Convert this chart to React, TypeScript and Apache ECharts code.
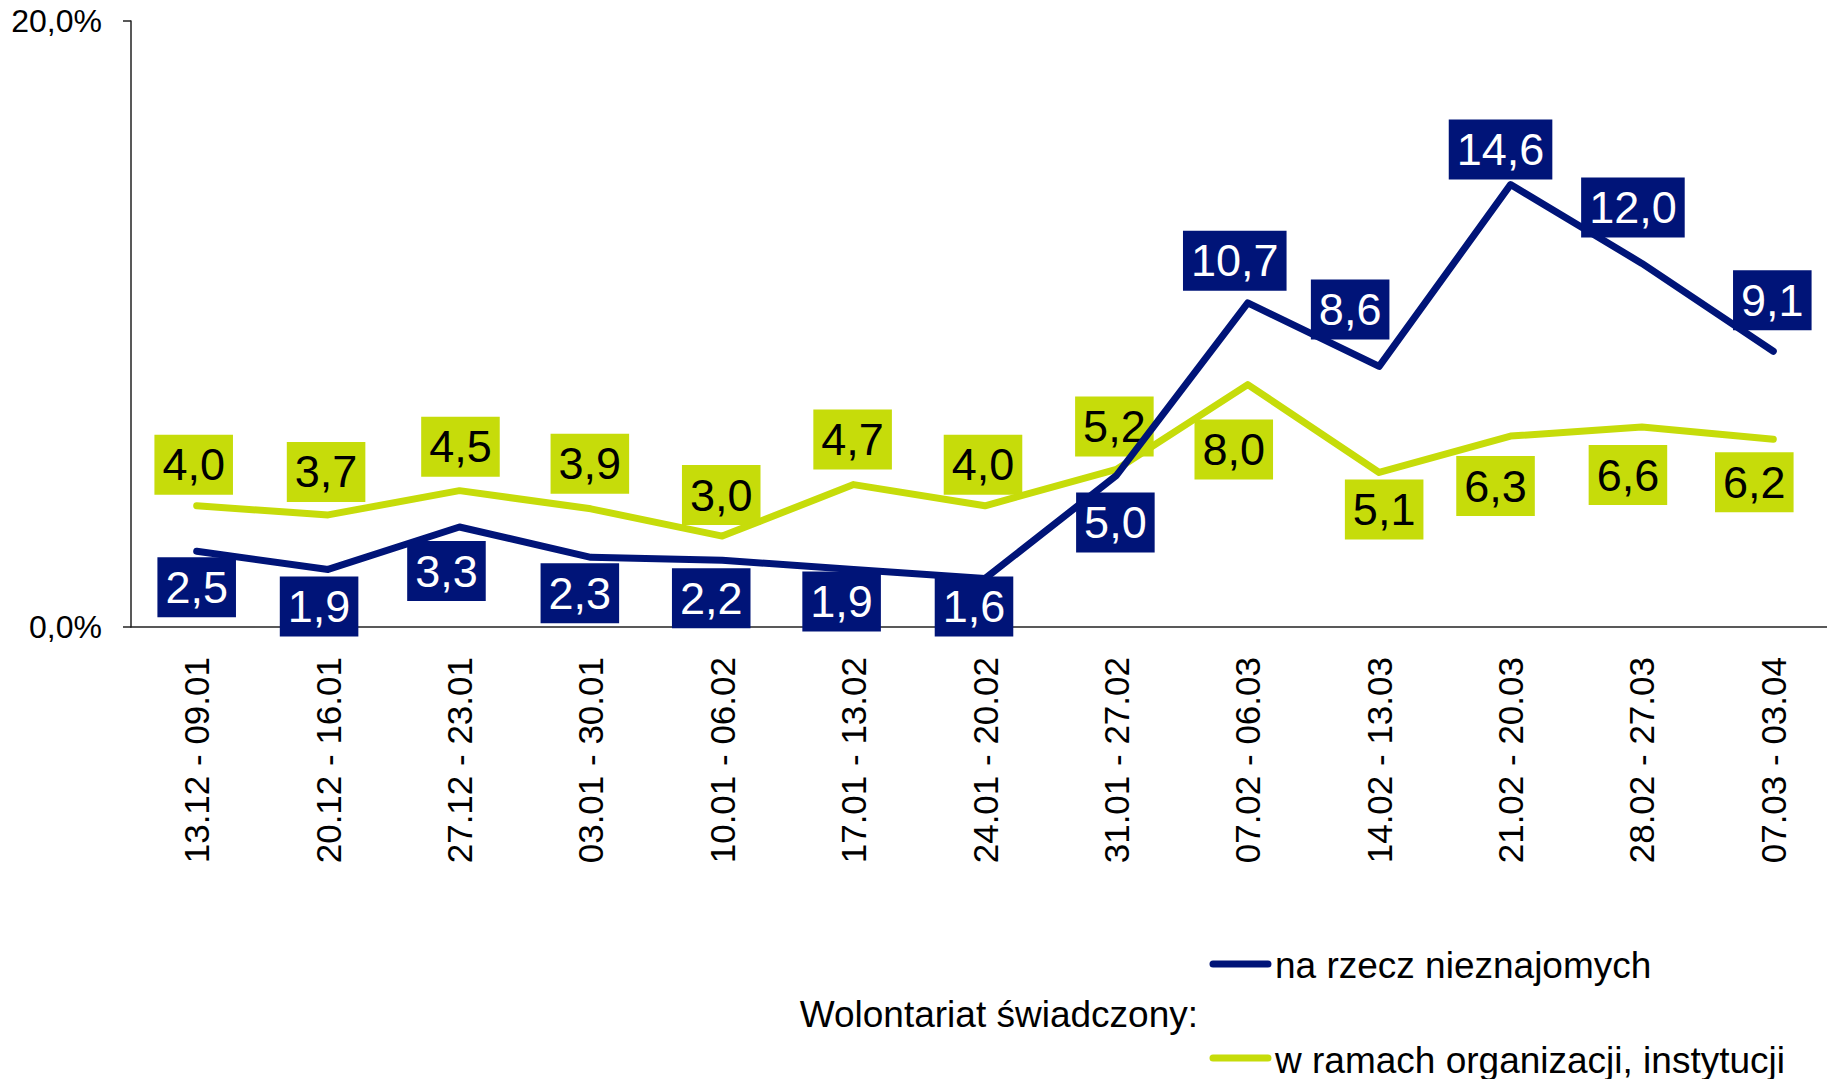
import React, { useEffect, useRef } from "react";
import * as echarts from "echarts";

const categories = [
  "13.12 - 09.01",
  "20.12 - 16.01",
  "27.12 - 23.01",
  "03.01 - 30.01",
  "10.01 - 06.02",
  "17.01 - 13.02",
  "24.01 - 20.02",
  "31.01 - 27.02",
  "07.02 - 06.03",
  "14.02 - 13.03",
  "21.02 - 20.03",
  "28.02 - 27.03",
  "07.03 - 03.04",
];

const seriesNames = ["na rzecz nieznajomych", "w ramach organizacji, instytucji"];
const strangersValues = [2.5, 1.9, 3.3, 2.3, 2.2, 1.9, 1.6, 5.0, 10.7, 8.6, 14.6, 12.0, 9.1];
const orgValues = [4.0, 3.7, 4.5, 3.9, 3.0, 4.7, 4.0, 5.2, 8.0, 5.1, 6.3, 6.6, 6.2];
const yTicks = [0, 20];
const legendTitle = "Wolontariat świadczony:";

// label offsets (dx, dy) from each point, in px
const strangersLabelOffsets = [
  [0, 36], [-9, 37], [-13, 44], [-11, 36], [-11, 38], [-12, 32], [-11, 28],
  [-1, 47], [-13, -42], [-29, -57], [-10, -35], [-9, -56], [-1, -51],
];
const orgLabelOffsets = [
  [-3, -41], [-2, -43], [1, -44], [-1, -45], [-1, -41], [-1, -45], [-2, -41],
  [-2, -43], [-14, 65], [5, 37], [-15, 50], [-14, 48], [-19, 43],
];

const BLUE = "#001478";
const GREEN = "#C6DC0A";
const FONT = "'Liberation Sans', Arial, sans-serif";

const fmt = (v: number) => v.toFixed(1).replace(".", ",");

function makeData(values: number[], offsets: number[][], bg: string, fg: string) {
  return values.map((v, i) => ({
    value: v,
    label: {
      show: true,
      position: "inside",
      offset: offsets[i],
      formatter: () => fmt(v),
      fontSize: 45,
      fontFamily: FONT,
      color: fg,
      backgroundColor: bg,
      padding: [6, 8, 4, 8],
      lineHeight: 50,
    },
  }));
}

export default function App() {
  const ref = useRef<HTMLDivElement>(null);
  useEffect(() => {
    if (!ref.current) return;
    const chart = echarts.init(ref.current, undefined, { renderer: "svg" });
    chart.setOption({
      animation: false,
      backgroundColor: "#ffffff",
      grid: { left: 131, top: 21, width: 1708, height: 606, containLabel: false },
      xAxis: {
        type: "category",
        data: categories,
        boundaryGap: true,
        axisLine: { show: true, lineStyle: { color: "#222", width: 1.5 } },
        axisTick: { show: false },
        axisLabel: {
          rotate: 90,
          fontSize: 35,
          fontFamily: FONT,
          color: "#000",
          margin: 30,
          interval: 0,
        },
        splitLine: { show: false },
      },
      yAxis: {
        type: "value",
        min: yTicks[0],
        max: yTicks[yTicks.length - 1],
        interval: 20,
        axisLine: { show: true, lineStyle: { color: "#222", width: 1.5 } },
        axisTick: { show: true, length: 8, lineStyle: { color: "#222", width: 1.5 } },
        axisLabel: {
          fontSize: 32,
          fontFamily: FONT,
          color: "#000",
          margin: 29,
          formatter: (v: number) => v.toFixed(1).replace(".", ",") + "%",
        },
        splitLine: { show: false },
      },
      series: [
        {
          name: seriesNames[1],
          type: "line",
          data: makeData(orgValues, orgLabelOffsets, GREEN, "#000"),
          symbol: "circle",
          symbolSize: 1,
          showSymbol: true,
          itemStyle: { color: GREEN },
          lineStyle: { color: GREEN, width: 7, cap: "round", join: "round" },
          z: 2,
        },
        {
          name: seriesNames[0],
          type: "line",
          data: makeData(strangersValues, strangersLabelOffsets, BLUE, "#fff"),
          symbol: "circle",
          symbolSize: 1,
          showSymbol: true,
          itemStyle: { color: BLUE },
          lineStyle: { color: BLUE, width: 7, cap: "round", join: "round" },
          z: 3,
        },
      ],
      graphic: [
        {
          type: "line",
          shape: { x1: 1213, y1: 964, x2: 1268, y2: 964 },
          style: { stroke: BLUE, lineWidth: 7, lineCap: "round" },
        },
        {
          type: "text",
          x: 1275,
          y: 965,
          style: {
            text: seriesNames[0],
            font: `37px ${FONT}`,
            fill: "#000",
            verticalAlign: "middle",
            align: "left",
          },
        },
        {
          type: "text",
          x: 1198,
          y: 1014,
          style: {
            text: legendTitle,
            font: `37px ${FONT}`,
            fill: "#000",
            verticalAlign: "middle",
            align: "right",
          },
        },
        {
          type: "line",
          shape: { x1: 1213, y1: 1058, x2: 1268, y2: 1058 },
          style: { stroke: GREEN, lineWidth: 7, lineCap: "round" },
        },
        {
          type: "text",
          x: 1275,
          y: 1060,
          style: {
            text: seriesNames[1],
            font: `37px ${FONT}`,
            fill: "#000",
            verticalAlign: "middle",
            align: "left",
          },
        },
      ],
    });
    return () => chart.dispose();
  }, []);
  return (
    <div
      style={{ position: "absolute", left: 0, top: 0, width: 1827, height: 1079, overflow: "hidden" }}
    >
      <div ref={ref} style={{ width: 1860, height: 1079 }} />
    </div>
  );
}
